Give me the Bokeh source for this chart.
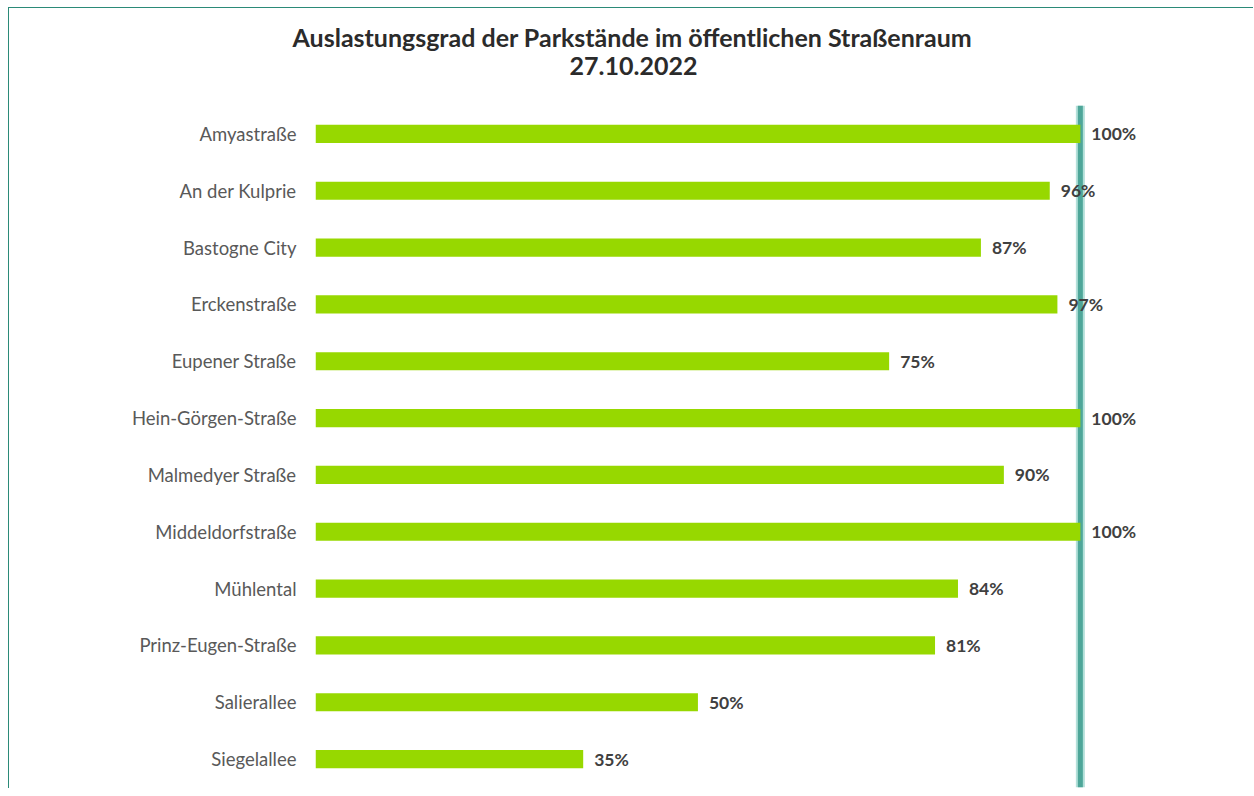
from bokeh.plotting import figure
from bokeh.models import ColumnDataSource, LabelSet, Span, Range1d, FactorRange, Title
from bokeh.core.properties import value
from bokeh.embed import file_html
from bokeh.resources import INLINE

categories = ["Amyastraße", "An der Kulprie", "Bastogne City", "Erckenstraße", "Eupener Straße",
              "Hein-Görgen-Straße", "Malmedyer Straße", "Middeldorfstraße", "Mühlental",
              "Prinz-Eugen-Straße", "Salierallee", "Siegelallee"]
values = [100, 96, 87, 97, 75, 100, 90, 100, 84, 81, 50, 35]
labels = [f"{v}%" for v in values]
title_line1 = "Auslastungsgrad der Parkstände im öffentlichen Straßenraum"
title_line2 = "27.10.2022"

FONT = "Lato"

src = ColumnDataSource(dict(cat=categories, val=values, lab=labels))

p = figure(width=1245, height=781, output_backend="svg", toolbar_location=None,
           y_range=FactorRange(*categories[::-1], range_padding=0),
           x_range=Range1d(0, 119.5),
           min_border_left=306, min_border_right=25, min_border_top=97, min_border_bottom=2)
p.title.visible = False
p.outline_line_color = None
p.background_fill_color = "white"
p.border_fill_color = "white"
p.xgrid.visible = False
p.ygrid.visible = False
p.xaxis.visible = False

ya = p.yaxis[0]
ya.axis_line_color = None
ya.major_tick_line_color = None
ya.minor_tick_line_color = None
ya.major_label_standoff = 13
ya.major_label_text_font = FONT
ya.major_label_text_font_size = "18.5px"
ya.major_label_text_color = "#595959"

p.add_layout(Span(location=100, dimension="height", line_color="#b3e0d9", line_width=9,
                  level="underlay"))
p.add_layout(Span(location=100, dimension="height", line_color="#4ea699", line_width=5,
                  level="underlay"))

p.hbar(y="cat", left=0, right="val", height=0.32, source=src, color="#97d800", line_color=None)

p.add_layout(LabelSet(x="val", y="cat", text="lab", source=src, x_offset=11,
                      text_baseline="middle", text_font=value(FONT), text_font_style="bold",
                      text_font_size="17.5px", text_color="#404040"))

# spacer between frame and title lines
p.add_layout(Title(text=" ", align="left", standoff=12, text_font=FONT,
                   text_font_size="14px"), "above")
p.add_layout(Title(text=title_line2, align="left", offset=254, standoff=0,
                   text_font=FONT, text_font_style="bold", text_font_size="25px",
                   text_color="#2b2b2b"), "above")
p.add_layout(Title(text=title_line1, align="left", offset=-23, standoff=6,
                   text_font=FONT, text_font_style="bold", text_font_size="25px",
                   text_color="#2b2b2b"), "above")

p.styles = {"margin-left": "8px", "margin-top": "7px",
            "border-top": "1px solid #2b8a78", "border-left": "1px solid #2b8a78"}

open("out.html", "w").write(file_html(p, INLINE))
